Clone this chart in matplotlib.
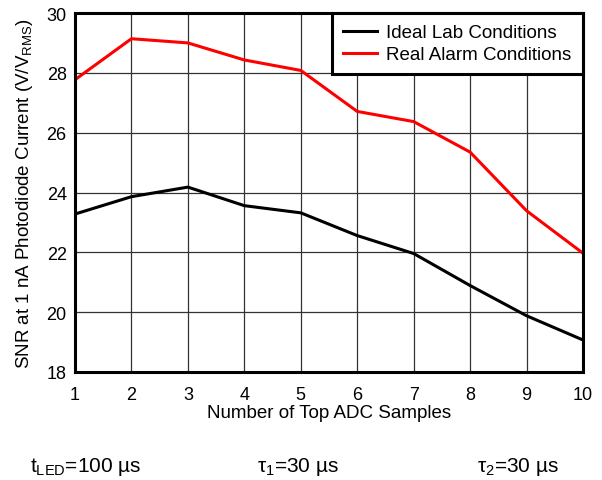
import matplotlib
matplotlib.use("Agg")
import matplotlib.pyplot as plt

plt.rcParams['font.family'] = ['Liberation Sans', 'DejaVu Sans']
plt.rcParams['mathtext.default'] = 'regular'

samples = [1, 2, 3, 4, 5, 6, 7, 8, 9, 10]
ideal_lab = [23.28, 23.86, 24.18, 23.56, 23.32, 22.56, 21.96, 20.89, 19.88, 19.07]
real_alarm = [27.77, 29.14, 29.00, 28.43, 28.08, 26.71, 26.37, 25.35, 23.39, 21.97]
series_labels = ["Ideal Lab Conditions", "Real Alarm Conditions"]
yticks = [18, 20, 22, 24, 26, 28, 30]

fig = plt.figure(figsize=(6.02, 4.81), dpi=100)
ax = fig.add_axes([75/602, 1-373/481, (583-75)/602, (373-14)/481])

ax.plot(samples, ideal_lab, color='black', lw=2.2, label=series_labels[0])
ax.plot(samples, real_alarm, color='#ff0000', lw=2.2, label=series_labels[1])

ax.set_xlim(1, 10)
ax.set_ylim(18, 30)
ax.set_xticks(samples)
ax.set_yticks(yticks)
ax.grid(True, color='#333333', lw=0.9)
ax.set_axisbelow(True)
ax.tick_params(length=0, labelsize=13)
ax.tick_params(axis='x', pad=10)
ax.tick_params(axis='y', pad=6)
for s in ax.spines.values():
    s.set_linewidth(2.2)

ax.set_xlabel("Number of Top ADC Samples", fontsize=13.5, labelpad=1)
ax.set_ylabel("SNR at 1 nA Photodiode Current (V/V$_{RMS}$)", fontsize=13.5, labelpad=8)

leg = ax.legend(loc='upper right', fontsize=13.5, frameon=True, fancybox=False,
                framealpha=1, edgecolor='black', borderaxespad=0,
                handlelength=1.8, handletextpad=0.5, borderpad=0.6,
                labelspacing=0.25)
leg.get_frame().set_linewidth(2.2)

fig.text(30/602, 1-467/481, "t$_{LED}$=100 µs", fontsize=15, va='center', ha='left')
fig.text(257/602, 1-467/481, "τ$_{1}$=30 µs", fontsize=15, va='center', ha='left')
fig.text(477/602, 1-467/481, "τ$_{2}$=30 µs", fontsize=15, va='center', ha='left')

fig.savefig("out.png", dpi=100)
